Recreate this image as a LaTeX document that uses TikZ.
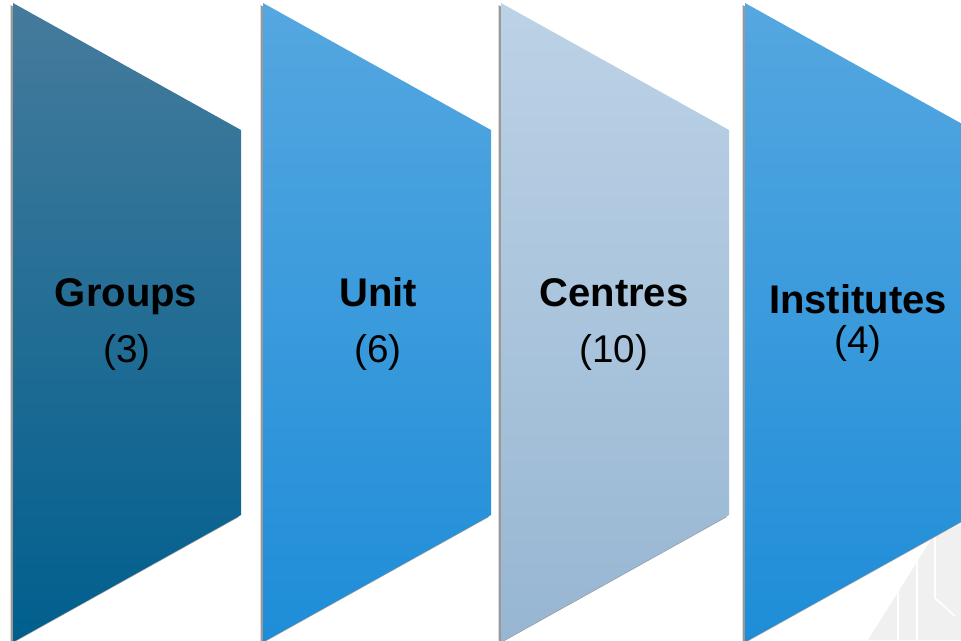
\documentclass[tikz,border=0pt]{standalone}
\usepackage{fontspec}
\setmainfont{Liberation Sans}
\usetikzlibrary{shadows}

\definecolor{darktop}{HTML}{457B9C}
\definecolor{darkbot}{HTML}{005F8E}
\definecolor{bluetop}{HTML}{55A7E0}
\definecolor{bluebot}{HTML}{1E8DD8}
\definecolor{palebot}{HTML}{97B6D2}
\definecolor{paletop}{HTML}{BCD2E6}

\tikzset{
  panel/.style={drop shadow={shadow xshift=-1.8pt,shadow yshift=-1.6pt,opacity=0.4,fill=black}},
  title/.style={font=\fontsize{30}{31}\selectfont\bfseries,anchor=base},
  count/.style={font=\fontsize{29}{31}\selectfont,anchor=base}
}

\begin{document}
\begin{tikzpicture}[x=0.75pt,y=-0.75pt]
  \useasboundingbox (0,0) rectangle (961,640);
  \clip (0,0) rectangle (961,640);
  % faint pattern in the corner
  \fill[black!6] (868,640) -- (932,538) -- (961,524) -- (961,640) -- cycle;
  \draw[white,line width=1.2pt] (898,560) -- (898,640) (917,548) -- (917,640)
    (935,534) -- (935,598) -- (955,616);
  \draw[cyan!10] (967,628) circle (13);
  % panels
  \foreach \x/\top/\bot/\n in {13/darktop/darkbot/groups,263/bluetop/bluebot/unit,
                               501/paletop/palebot/centres,745/bluetop/bluebot/institutes}
    \shade[panel,top color=\top,bottom color=\bot]
      (\x,3) coordinate (\n-a) -- ++(228,127) coordinate (\n-b)
      -- ++(0,385) coordinate (\n-c) -- ++(-228,127) coordinate (\n-d) -- cycle;
  % labels
  \node[title] (groups) at (126,306) {Groups};
  \node[count] (groups-n) at (127,362) {(3)};
  \node[title] (unit) at (378,306) {Unit};
  \node[count] (unit-n) at (378,362) {(6)};
  \node[title] (centres) at (614,306) {Centres};
  \node[count] (centres-n) at (614,362) {(10)};
  \node[title] (institutes) at (858,313) {Institutes};
  \node[count] (institutes-n) at (858,353) {(4)};
\end{tikzpicture}
\end{document}
